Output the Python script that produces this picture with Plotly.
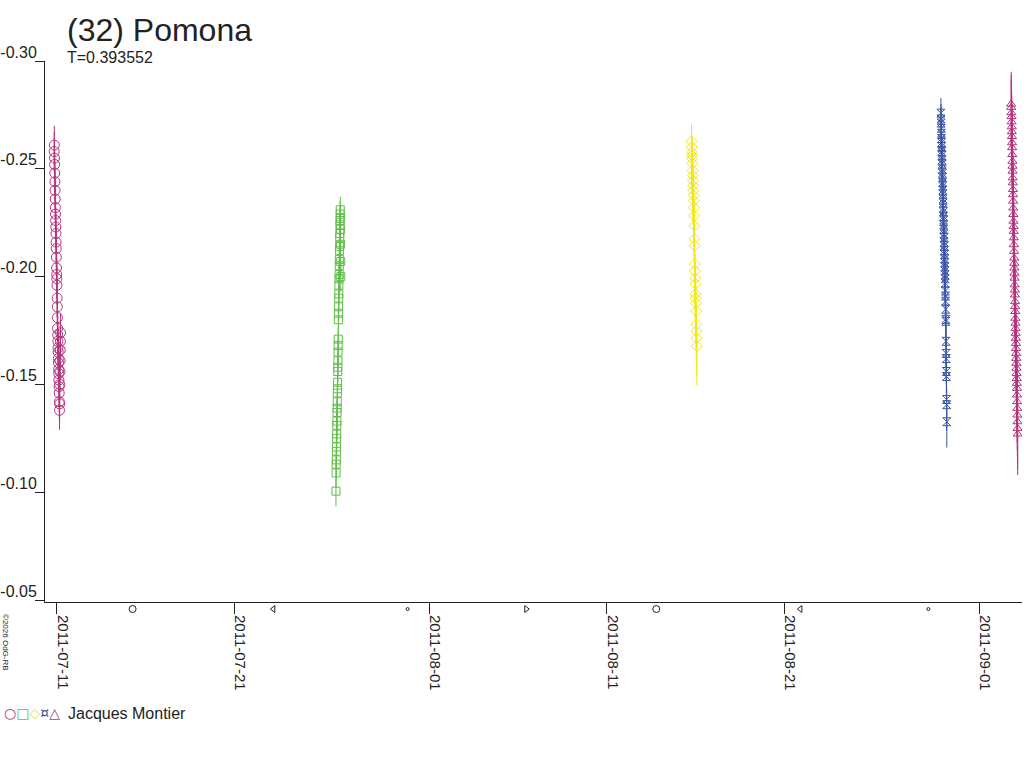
import pandas as pd
import plotly.graph_objects as go

# session 1 - 2011-07-10/11, circles
s1_hours = [20.6, 20.8, 21.0, 21.2, 21.4, 21.6, 21.8, 22.0, 22.2, 22.4, 22.6, 22.8, 23.0, 23.2, 23.4,
            23.6, 23.8, 24.0, 24.2, 24.4, 24.6, 24.8, 25.0, 25.2, 25.4, 25.6, 25.8, 26.0, 26.2, 26.4,
            26.6, 26.8, 27.0, 27.2, 27.4, 27.6, 27.8, 28.0, 28.2, 28.4, 28.6, 28.8, 29.0, 29.2]
s1_mag = [-0.258, -0.261, -0.255, -0.252, -0.248, -0.244, -0.240, -0.236, -0.232, -0.229, -0.226,
          -0.223, -0.220, -0.216, -0.213, -0.209, -0.204, -0.201, -0.199, -0.196, -0.190, -0.186,
          -0.181, -0.176, -0.173, -0.170, -0.167, -0.165, -0.162, -0.160, -0.157, -0.155, -0.152,
          -0.149, -0.146, -0.142, -0.138, -0.141, -0.150, -0.156, -0.161, -0.166, -0.170, -0.174]

# session 2 - 2011-07-26, squares
s2_hours = [17.7, 17.85, 18.0, 18.15, 18.3, 18.45, 18.6, 18.75, 18.9, 19.05, 19.2, 19.35, 19.5, 19.65,
            19.8, 19.95, 20.1, 20.25, 20.4, 20.55, 20.7, 20.85, 21.0, 21.15, 21.3, 21.45, 21.6, 21.75,
            21.9, 22.05, 22.2, 22.35, 22.5, 22.65, 22.8, 22.95, 23.1, 23.25, 23.4, 23.55, 23.7, 23.85,
            24.0, 24.15, 24.3]
s2_mag = [-0.1005, -0.109, -0.113, -0.115, -0.119, -0.121, -0.125, -0.127, -0.131, -0.133, -0.137,
          -0.139, -0.142, -0.146, -0.148, -0.151, -0.156, -0.158, -0.161, -0.165, -0.168, -0.171,
          -0.180, -0.183, -0.186, -0.190, -0.192, -0.196, -0.199, -0.201, -0.205, -0.208, -0.212,
          -0.214, -0.218, -0.220, -0.224, -0.226, -0.229, -0.231, -0.227, -0.222, -0.215, -0.207, -0.200]

# session 3 - 2011-08-15, diamonds
s3_hours = [18.6, 18.85, 19.1, 19.35, 19.6, 19.85, 20.1, 20.35, 20.6, 20.85, 21.1, 21.35, 21.6, 21.85,
            22.1, 22.35, 22.6, 22.85, 23.1, 23.35, 23.6, 23.85, 24.1, 24.35, 24.6, 24.85, 25.1, 25.35,
            25.6, 25.85]
s3_mag = [-0.2627, -0.2600, -0.2576, -0.2562, -0.2548, -0.2525, -0.2492, -0.2469, -0.2446, -0.2422,
          -0.2399, -0.2376, -0.2352, -0.2320, -0.2282, -0.2236, -0.2175, -0.2143, -0.2059, -0.2026,
          -0.1993, -0.1966, -0.1919, -0.1900, -0.1877, -0.1840, -0.1779, -0.1747, -0.1714, -0.1677]

# session 4 - 2011-08-29/30, hourglass
s4_hours = [20.0, 20.15, 20.3, 20.45, 20.6, 20.75, 20.9, 21.05, 21.2, 21.35, 21.5, 21.65, 21.8, 21.95,
            22.1, 22.25, 22.4, 22.55, 22.7, 22.85, 23.0, 23.15, 23.3, 23.45, 23.6, 23.75, 23.9, 24.05,
            24.2, 24.35, 24.5, 24.65, 24.8, 24.95, 25.1, 25.25, 25.4, 25.55, 25.7, 25.85, 26.0, 26.15,
            26.3, 26.45, 26.6, 26.75, 26.9, 27.05, 27.2, 27.35, 27.5, 27.65, 27.8, 27.95]
s4_mag = [-0.2758, -0.2731, -0.2712, -0.2688, -0.2665, -0.2641, -0.2622, -0.2603, -0.2580, -0.2562,
          -0.2540, -0.2521, -0.2498, -0.2480, -0.2461, -0.2437, -0.2420, -0.2401, -0.2383, -0.2360,
          -0.2342, -0.2318, -0.2301, -0.2279, -0.2262, -0.2240, -0.2219, -0.2198, -0.2181, -0.2160,
          -0.2142, -0.2121, -0.2103, -0.2082, -0.2064, -0.2045, -0.2027, -0.2008, -0.1990, -0.1970,
          -0.1933, -0.1910, -0.1886, -0.1849, -0.1802, -0.1793, -0.1700, -0.1644, -0.1620, -0.1560,
          -0.1537, -0.1430, -0.1406, -0.1327]

# session 5 - 2011-09-02/03, triangles
s5_hours = [19.0, 19.15, 19.3, 19.45, 19.6, 19.75, 19.9, 20.05, 20.2, 20.35, 20.5, 20.65, 20.8, 20.95,
            21.1, 21.25, 21.4, 21.55, 21.7, 21.85, 22.0, 22.15, 22.3, 22.45, 22.6, 22.75, 22.9, 23.05,
            23.2, 23.35, 23.5, 23.65, 23.8, 23.95, 24.1, 24.25, 24.4, 24.55, 24.7, 24.85, 25.0, 25.15,
            25.3, 25.45, 25.6, 25.75, 25.9, 26.05, 26.2, 26.35, 26.5, 26.65, 26.8, 26.95, 27.1, 27.25,
            27.4, 27.55, 27.7, 27.85]
s5_mag = [-0.2800, -0.2785, -0.2760, -0.2742, -0.2718, -0.2695, -0.2672, -0.2650, -0.2621, -0.2598,
          -0.2566, -0.2535, -0.2512, -0.2489, -0.2458, -0.2435, -0.2404, -0.2380, -0.2350, -0.2318,
          -0.2288, -0.2257, -0.2233, -0.2210, -0.2180, -0.2148, -0.2117, -0.2086, -0.2062, -0.2040,
          -0.2016, -0.1993, -0.1962, -0.1938, -0.1915, -0.1884, -0.1861, -0.1838, -0.1807, -0.1784,
          -0.1760, -0.1737, -0.1714, -0.1690, -0.1667, -0.1644, -0.1621, -0.1598, -0.1575, -0.1551,
          -0.1528, -0.1505, -0.1482, -0.1451, -0.1420, -0.1389, -0.1358, -0.1327, -0.1296, -0.1270]

# moon phases along the date axis
moon_full = ["2011-07-15 06:40", "2011-08-13 18:57"]
moon_new = ["2011-07-30 18:40", "2011-08-29 03:04"]
moon_first = ["2011-08-06 11:08"]
moon_last = ["2011-07-23 05:02", "2011-08-21 21:54"]

x_ticks = ["2011-07-11", "2011-07-21", "2011-08-01", "2011-08-11", "2011-08-21", "2011-09-01"]
y_ticks = [-0.30, -0.25, -0.20, -0.15, -0.10, -0.05]
y_tick_labels = ["-0.30", "-0.25", "-0.20", "-0.15", "-0.10", "-0.05"]

MAGENTA = "#b4347f"
GREEN = "#62bd4a"
YELLOW = "#f2e61c"
BLUE = "#3c55a5"
INK = "#222222"
FONT = "Liberation Sans"


def session(base, hours, mags, color, symbol, size, err_down, err_up):
    t = pd.Timestamp(base) + pd.to_timedelta(hours, unit="h")
    return go.Scatter(
        x=t, y=mags, mode="markers",
        marker=dict(symbol=symbol, size=size, color=color, line=dict(width=1, color=color)),
        error_y=dict(type="constant", symmetric=False, value=err_down, valueminus=err_up,
                     color=color, thickness=1, width=0),
        showlegend=False, hoverinfo="x+y",
    )


fig = go.Figure()
fig.add_trace(session("2011-07-10", s1_hours, s1_mag, MAGENTA, "circle-open", 10, 0.009, 0.009))
fig.add_trace(session("2011-07-26", s2_hours, s2_mag, GREEN, "square-open", 8, 0.007, 0.006))
fig.add_trace(session("2011-08-15", s3_hours, s3_mag, YELLOW, "diamond-open", 8.5, 0.018, 0.008))
fig.add_trace(session("2011-08-29", s4_hours, s4_mag, BLUE, "hourglass-open", 8, 0.012, 0.007))
fig.add_trace(session("2011-09-02", s5_hours, s5_mag, MAGENTA, "triangle-up-open", 8, 0.019, 0.015))

# moon strip just under the date axis (own little subplot)
moon_y = 0.56
for dates, sym, sz in [(moon_full, "circle-open", 7), (moon_new, "circle-open", 3),
                       (moon_first, "triangle-right-open", 6), (moon_last, "triangle-left-open", 6)]:
    fig.add_trace(go.Scatter(
        x=pd.to_datetime(dates), y=[moon_y] * len(dates), mode="markers",
        xaxis="x2", yaxis="y2",
        marker=dict(symbol=sym, size=sz, color=INK, line=dict(width=1, color=INK)),
        cliponaxis=False, showlegend=False, hoverinfo="x",
    ))

fig.update_layout(
    xaxis=dict(
        type="date", range=["2011-07-10 08:11", "2011-09-03 09:40"], automargin=False,
        anchor="y", tickvals=pd.to_datetime(x_ticks), ticktext=x_ticks, tickangle=90,
        ticks="outside", ticklen=11, tickcolor=INK, ticklabelshift=6, ticklabelstandoff=-2,
        showline=True, linecolor=INK, linewidth=1, showgrid=False, zeroline=False,
        tickfont=dict(family=FONT, size=15, color=INK),
    ),
    yaxis=dict(
        domain=[16 / 557, 1], range=[-0.0491, -0.30], tickvals=y_ticks, ticktext=y_tick_labels,
        automargin=False, ticks="outside", ticklen=9, tickcolor=INK,
        ticklabelshift=9, ticklabelstandoff=-5,
        showline=True, linecolor=INK, linewidth=1, showgrid=False, zeroline=False,
        tickfont=dict(family=FONT, size=16, color=INK),
    ),
    xaxis2=dict(matches="x", anchor="y2", visible=False, showgrid=False),
    yaxis2=dict(domain=[0, 16 / 557], range=[0, 1], visible=False, showgrid=False, fixedrange=True),
)

legend_txt = (f"<span style='color:{MAGENTA}'>○</span><span style='color:{GREEN}'>□</span>"
              f"<span style='color:{YELLOW}'>◇</span><span style='color:{BLUE}'>¤</span>"
              f"<span style='color:{MAGENTA}'>△</span>")

fig.update_layout(
    width=1024, height=768,
    margin=dict(l=45, r=2, t=61, b=150),
    paper_bgcolor="white", plot_bgcolor="white",
    font=dict(family=FONT, color=INK),
    annotations=[
        dict(text="(32) Pomona", xref="paper", yref="paper", x=0.0205, y=1.0557,
             xanchor="left", yanchor="middle", showarrow=False, font=dict(size=32, color=INK)),
        dict(text="T=0.393552", xref="paper", yref="paper", x=0.0205, y=1.0054,
             xanchor="left", yanchor="middle", showarrow=False, font=dict(size=16, color=INK)),
        dict(text=legend_txt, xref="paper", yref="paper", x=-0.0445, y=-0.1706,
             xanchor="left", yanchor="middle", showarrow=False,
             font=dict(family="DejaVu Sans", size=14, color=INK)),
        dict(text="Jacques Montier", xref="paper", yref="paper", x=0.0215, y=-0.1706,
             xanchor="left", yanchor="middle", showarrow=False, font=dict(size=16, color=INK)),
        dict(text="©2026 OdG-RB", xref="paper", yref="paper", x=-0.0399, y=-0.0431,
             xanchor="center", yanchor="middle", textangle=90, showarrow=False,
             font=dict(size=8, color=INK)),
    ],
)

fig.write_html("out.html", config={"displayModeBar": False},
               post_script="document.body.style.margin='0';document.body.style.overflow='hidden';")
